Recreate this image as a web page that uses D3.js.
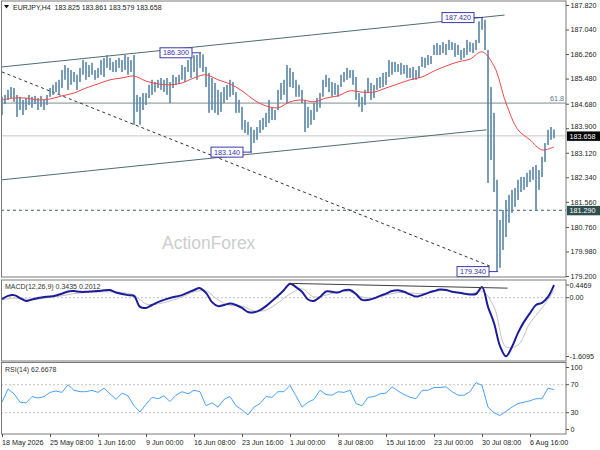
<!DOCTYPE html>
<html>
<head>
<meta charset="utf-8">
<script src="https://cdn.jsdelivr.net/npm/d3@7"></script>
<style>
  body { margin: 0; background: #fff; }
  svg { display: block; font-family: "Liberation Sans", Arial, sans-serif; }
</style>
</head>
<body>
<svg id="chart" width="600" height="450"></svg>
<script>
// EURJPY H4 — one entry per 2 bars (high / low)
const barHigh = [
  184.90,184.96,185.12,185.21,185.18,184.96,184.90,184.80,184.86,184.96,
  184.90,184.93,184.86,184.93,184.80,184.96,185.18,185.28,185.37,185.44,
  185.75,185.91,185.82,185.75,185.69,185.60,185.82,186.07,186.01,185.91,
  185.98,185.75,185.82,186.07,186.14,186.23,186.14,186.01,186.07,186.14,
  186.07,186.23,186.17,186.07,186.23,184.96,184.90,185.02,185.02,185.28,
  185.44,185.37,185.44,185.50,185.44,185.50,185.37,185.60,185.53,185.60,
  185.91,185.85,186.07,186.14,186.22,186.23,186.30,186.25,185.85,185.66,
  185.50,185.34,185.12,185.05,185.21,185.28,185.44,185.37,185.05,184.80,
  184.58,184.16,184.10,183.94,183.85,183.94,184.16,184.23,184.39,184.80,
  184.55,184.48,185.12,185.34,185.44,185.91,185.82,185.69,185.44,185.28,
  185.12,184.80,184.58,184.48,184.70,184.86,185.02,185.44,185.60,185.50,
  185.37,185.34,185.28,185.60,185.69,185.82,185.75,185.75,185.53,185.02,
  184.90,185.12,185.50,185.34,185.28,185.50,185.53,185.66,185.69,186.07,
  186.01,186.01,185.94,185.98,185.91,185.91,185.82,185.85,185.75,185.88,
  186.17,186.14,186.23,186.20,186.55,186.61,186.55,186.64,186.58,186.71,
  186.64,186.61,186.55,186.39,186.45,186.71,186.64,186.61,186.71,187.30,
  187.42,187.35,186.39,185.21,184.39,182.26,180.98,181.30,181.62,181.78,
  181.94,182.00,182.26,182.35,182.35,182.48,182.57,182.67,182.73,182.57,
  182.99,183.43,183.85,183.94,183.86
];
const barLow = [
  184.32,184.67,184.80,184.86,184.74,184.26,184.48,184.32,184.48,184.64,
  184.55,184.67,184.48,184.58,184.48,184.64,184.90,184.96,185.05,184.96,
  185.18,185.44,185.12,185.28,185.37,185.12,185.37,185.60,185.44,185.53,
  185.60,185.44,185.50,185.60,185.53,185.82,185.75,185.69,185.69,185.82,
  185.69,185.75,185.60,185.69,184.01,184.42,184.01,184.48,184.64,184.86,
  184.96,185.05,185.18,185.12,185.05,184.96,184.70,185.18,185.28,185.31,
  185.44,185.37,185.69,185.50,185.69,185.44,185.82,185.69,185.21,184.39,
  184.48,184.39,184.32,184.42,184.70,184.80,184.90,184.96,184.39,184.39,
  183.85,183.75,183.69,183.14,183.43,183.53,183.75,183.85,183.94,184.07,
  184.16,184.16,184.48,184.80,184.96,184.70,185.21,185.18,184.90,184.90,
  184.70,183.78,183.91,184.01,184.16,184.42,184.55,184.90,185.21,185.05,
  184.90,184.96,184.90,185.21,185.37,185.44,185.50,185.28,184.80,184.58,
  184.42,184.64,185.02,184.80,184.86,185.12,185.18,185.21,185.28,185.53,
  185.60,185.69,185.69,185.60,185.63,185.50,185.50,185.44,185.44,185.50,
  185.85,185.82,185.91,185.94,186.23,186.23,186.23,186.29,186.23,186.39,
  186.39,186.17,186.23,186.07,186.14,186.23,186.33,186.29,186.39,186.61,
  187.03,186.39,182.16,182.89,181.87,179.34,179.46,180.03,180.44,180.89,
  181.21,181.40,181.62,181.87,181.94,182.03,182.19,182.26,181.29,181.94,
  182.35,182.83,183.37,183.53,183.58
];
const BARS_PER_SLOT = 2;

// red moving average, one value every 8 bars
const maValues = [
  184.80,184.86,184.86,184.80,184.83,184.93,185.02,185.18,185.31,185.44,
  185.50,185.56,185.40,185.31,185.28,185.34,185.50,185.60,185.44,185.31,
  185.09,184.80,184.61,184.55,184.74,184.80,184.74,184.86,184.93,185.09,
  185.05,185.05,185.18,185.31,185.44,185.53,185.72,185.88,186.01,186.10,
  186.33,185.88,184.70,183.85,183.53,183.21,183.31
];
const MA_STEP = 8;

// MACD main, one value every 4 bars
const macdMain = [
  -0.04,0.05,0.07,-0.01,-0.09,-0.05,-0.01,0.02,0.03,0.06,
  0.11,0.17,0.18,0.16,0.16,0.17,0.18,0.20,0.21,0.14,
  0.10,0.07,0.05,-0.25,-0.28,-0.20,-0.12,-0.06,-0.01,0.03,
  0.07,0.14,0.21,0.26,0.13,-0.12,-0.23,-0.20,-0.16,-0.20,
  -0.28,-0.39,-0.40,-0.34,-0.23,-0.09,0.05,0.21,0.38,0.29,
  0.16,-0.05,-0.09,0.02,0.17,0.16,0.14,0.20,0.21,0.10,
  -0.06,-0.06,-0.02,0.05,0.11,0.18,0.20,0.16,0.09,0.03,
  0.07,0.13,0.18,0.22,0.21,0.16,0.14,0.11,0.09,0.10,
  0.29,-0.25,-0.69,-1.32,-1.60,-1.34,-0.96,-0.66,-0.42,-0.20,
  -0.14,0.02,0.34
];
const MACD_STEP = 4;
// MACD signal, one value every 8 bars
const macdSignal = [
  -0.06,-0.01,-0.04,-0.04,0.01,0.05,0.11,0.14,0.16,0.16,
  0.14,0.07,-0.17,-0.17,-0.09,0.02,0.16,0.18,-0.06,-0.21,
  -0.23,-0.36,-0.34,-0.14,0.10,0.24,0.02,0.07,0.16,0.16,
  0.02,-0.01,0.07,0.14,0.13,0.11,0.16,0.20,0.13,0.10,
  0.18,-0.25,-1.34,-1.29,-0.69,-0.28,0.20
];
const SIGNAL_STEP = 8;

// RSI(14), one value every 4 bars
const rsiValues = [
  45,64,57,45,44,53,51,53,59,61,
  59,70,62,60,60,62,59,65,57,49,
  58,54,40,31,42,52,50,54,46,55,
  60,57,62,60,40,44,38,49,53,40,
  34,27,38,43,53,52,60,60,69,54,
  38,45,49,62,56,55,60,59,62,43,
  40,52,53,57,58,67,61,56,52,50,
  62,62,66,66,67,60,55,55,60,73,
  69,38,30,26,32,38,43,45,47,50,
  50,65,63
];
const RSI_STEP = 4;

// drawn objects: [bar, value]
const upperChannel = [[0, 185.85], [335, 187.50]];
const lowerChannel = [[0, 182.26], [323, 183.85]];
const fallingTrend = [[0, 185.69], [325, 179.52]];
const macdTrend = [[192, 0.39], [337, 0.26]];
const fibLevel = 184.70;
const supportLevel = 181.29;
const bidPrice = 183.658;

// swing labels: [bar, price, text]
const swingTags = [
  [132, 186.30, '186.300'],
  [166, 183.14, '183.140'],
  [320, 187.42, '187.420'],
  [330, 179.34, '179.340']
];

const priceTicks = [187.82, 187.04, 186.26, 185.48, 184.68, 183.90, 183.12, 182.34, 181.56, 180.76, 179.98, 179.20];
const timeBars = [0, 32, 64, 96, 128, 160, 192, 224, 256, 288, 320, 352];
const timeLabels = ['18 May 2026', '25 May 08:00', '1 Jun 16:00', '9 Jun 00:00', '16 Jun 08:00', '23 Jun 16:00',
  '1 Jul 00:00', '8 Jul 08:00', '15 Jul 16:00', '23 Jul 00:00', '30 Jul 08:00', '6 Aug 16:00'];

const LAST_BAR = 368;
const RIGHT = 566;
const FONT = 7.2;

const svg = d3.select('#chart');

const xBar = d3.scaleLinear().domain([0, LAST_BAR]).range([2, 554]);
const yPrice = d3.scaleLinear().domain([179.2, 187.82]).range([276, 5]);
const yMacd = d3.scaleLinear().domain([-1.6095, 0.4469]).range([356.7, 281.3]);
const yRsi = d3.scaleLinear().domain([0, 100]).range([433.7, 363.7]);

const panes = [
  { id: 'main', top: 1, bottom: 277 },
  { id: 'macd', top: 280, bottom: 361 },
  { id: 'rsi', top: 362.5, bottom: 434 }
];

const defs = svg.append('defs');
panes.forEach(p => {
  defs.append('clipPath').attr('id', 'clip-' + p.id)
    .append('rect').attr('x', 1.5).attr('y', p.top).attr('width', RIGHT - 1.5).attr('height', p.bottom - p.top);
});

// watermark
svg.append('text')
  .attr('x', 162).attr('y', 249)
  .attr('font-size', 17.5)
  .attr('fill', '#cdcdcd')
  .text('ActionForex');

const main = svg.append('g').attr('clip-path', 'url(#clip-main)');

// horizontal levels
main.append('line')
  .attr('x1', 1).attr('x2', RIGHT)
  .attr('y1', yPrice(bidPrice)).attr('y2', yPrice(bidPrice))
  .attr('stroke', '#c8c8c8').attr('stroke-width', 1);
main.append('line')
  .attr('x1', 1).attr('x2', RIGHT)
  .attr('y1', yPrice(fibLevel)).attr('y2', yPrice(fibLevel))
  .attr('stroke', '#7d8c8c').attr('stroke-width', 1);
main.append('line')
  .attr('x1', 1).attr('x2', RIGHT)
  .attr('y1', yPrice(supportLevel)).attr('y2', yPrice(supportLevel))
  .attr('stroke', '#3f5f5f').attr('stroke-width', 1)
  .attr('stroke-dasharray', '3,3');
svg.append('text')
  .attr('x', RIGHT - 2).attr('y', yPrice(fibLevel) - 2.5)
  .attr('text-anchor', 'end')
  .attr('font-size', FONT).attr('fill', '#5f7282')
  .text('61.8');

// trend lines
const priceLine = d3.line().x(d => xBar(d[0])).y(d => yPrice(d[1]));
[upperChannel, lowerChannel].forEach(l => {
  main.append('path').attr('d', priceLine(l))
    .attr('fill', 'none').attr('stroke', '#4f6d6d').attr('stroke-width', 1);
});
main.append('path').attr('d', priceLine(fallingTrend))
  .attr('fill', 'none').attr('stroke', '#333').attr('stroke-width', 1)
  .attr('stroke-dasharray', '3,3');

// bars
main.append('g')
  .selectAll('rect')
  .data(barHigh.map((h, i) => ({ bar: i * BARS_PER_SLOT, high: h, low: barLow[i] })))
  .join('rect')
    .attr('x', d => xBar(d.bar) - 0.8)
    .attr('y', d => yPrice(d.high))
    .attr('width', 1.6)
    .attr('height', d => Math.max(1, yPrice(d.low) - yPrice(d.high)))
    .attr('fill', '#5986a8');

// moving average
main.append('path')
  .datum(maValues)
  .attr('d', d3.line().x((d, i) => xBar(i * MA_STEP)).y(d => yPrice(d)).curve(d3.curveCatmullRom))
  .attr('fill', 'none').attr('stroke', '#f04848').attr('stroke-width', 1);

// swing labels
const tags = svg.append('g');
swingTags.forEach(([bar, price, text]) => {
  const xr = xBar(bar) - 8, yc = yPrice(price);
  tags.append('line')
    .attr('x1', xr).attr('x2', xBar(bar) + 1)
    .attr('y1', yc).attr('y2', yc)
    .attr('stroke', '#3a3ab0').attr('stroke-width', 1);
  tags.append('rect')
    .attr('x', xr - 32).attr('y', yc - 5)
    .attr('width', 32).attr('height', 10)
    .attr('fill', '#fff').attr('stroke', '#3a3ab0').attr('stroke-width', 1);
  tags.append('text')
    .attr('x', xr - 16).attr('y', yc + 2.6)
    .attr('text-anchor', 'middle')
    .attr('font-size', FONT).attr('fill', '#3030a8')
    .text(text);
});

// MACD pane
const macdG = svg.append('g').attr('clip-path', 'url(#clip-macd)');
macdG.append('line')
  .attr('x1', 1).attr('x2', RIGHT)
  .attr('y1', yMacd(0)).attr('y2', yMacd(0))
  .attr('stroke', '#c4c4c4').attr('stroke-dasharray', '2,2');
macdG.append('path')
  .datum(macdSignal)
  .attr('d', d3.line().x((d, i) => xBar(i * SIGNAL_STEP)).y(d => yMacd(d)).curve(d3.curveCatmullRom))
  .attr('fill', 'none').attr('stroke', '#c2c2c2').attr('stroke-width', 1);
macdG.append('path')
  .datum(macdMain)
  .attr('d', d3.line().x((d, i) => xBar(i * MACD_STEP)).y(d => yMacd(d)).curve(d3.curveCatmullRom))
  .attr('fill', 'none').attr('stroke', '#1c1c9c').attr('stroke-width', 2);
macdG.append('path')
  .attr('d', d3.line().x(d => xBar(d[0])).y(d => yMacd(d[1]))(macdTrend))
  .attr('fill', 'none').attr('stroke', '#404040').attr('stroke-width', 1);

// RSI pane
const rsiG = svg.append('g').attr('clip-path', 'url(#clip-rsi)');
[70, 30].forEach(v => {
  rsiG.append('line')
    .attr('x1', 1).attr('x2', RIGHT)
    .attr('y1', yRsi(v)).attr('y2', yRsi(v))
    .attr('stroke', '#c4c4c4').attr('stroke-dasharray', '2,2');
});
rsiG.append('path')
  .datum(rsiValues)
  .attr('d', d3.line().x((d, i) => xBar(i * RSI_STEP)).y(d => yRsi(d)))
  .attr('fill', 'none').attr('stroke', '#4aa3ff').attr('stroke-width', 1);

// pane borders
panes.forEach(p => {
  svg.append('rect')
    .attr('x', 1.5).attr('y', p.top)
    .attr('width', RIGHT - 1.5).attr('height', p.bottom - p.top)
    .attr('fill', 'none').attr('stroke', '#7a7a7a').attr('stroke-width', 1);
});

// price axis
const styleAxis = g => {
  g.attr('font-family', null).attr('font-size', FONT);
  g.select('.domain').remove();
  g.selectAll('text').attr('fill', '#222');
  g.selectAll('line').attr('stroke', '#555');
};
svg.append('g')
  .attr('transform', `translate(${RIGHT},0)`)
  .call(d3.axisRight(yPrice).tickValues(priceTicks).tickSize(3).tickPadding(1.5).tickFormat(d3.format('.3f')))
  .call(styleAxis)
  .call(g => g.selectAll('.tick text').attr('dy', d => d === 183.90 ? '0.1em' : '0.32em'));

// MACD axis labels
const macdLabels = [[0.4469, '0.4469'], [0, '0.00'], [-1.6095, '-1.6095']];
const macdAxis = svg.append('g');
macdLabels.forEach(([v, t]) => {
  const y = Math.min(Math.max(yMacd(v), 285), 356.5);
  macdAxis.append('line').attr('x1', RIGHT).attr('x2', RIGHT + 3).attr('y1', y).attr('y2', y).attr('stroke', '#555');
  macdAxis.append('text').attr('x', RIGHT + 3.5).attr('y', y + 2.6)
    .attr('font-size', FONT).attr('fill', '#222').text(t);
});

// RSI axis labels
const rsiAxis = svg.append('g');
[100, 70, 30, 0].forEach(v => {
  const y = Math.min(Math.max(yRsi(v), 367.5), 429.5);
  rsiAxis.append('line').attr('x1', RIGHT).attr('x2', RIGHT + 3).attr('y1', y).attr('y2', y).attr('stroke', '#555');
  rsiAxis.append('text').attr('x', RIGHT + 4.5).attr('y', y + 2.6)
    .attr('font-size', FONT).attr('fill', '#222').text(v);
});

// current price and support tags on the axis
const axisTag = (price, text, bg) => {
  const y = yPrice(price);
  svg.append('rect').attr('x', RIGHT + 1).attr('y', y - 4.4)
    .attr('width', 600 - RIGHT - 1).attr('height', 9.4).attr('fill', bg);
  svg.append('text').attr('x', RIGHT + 3.5).attr('y', y + 2.7)
    .attr('font-size', FONT).attr('fill', '#fff').text(text);
};
axisTag(bidPrice, '183.658', '#000');
axisTag(supportLevel, '181.290', '#2f4f4f');

// time axis
svg.append('g')
  .attr('transform', 'translate(0,434)')
  .call(d3.axisBottom(xBar).tickValues(timeBars).tickSize(3).tickPadding(2.5).tickFormat((d, i) => timeLabels[i]))
  .call(styleAxis)
  .call(g => g.selectAll('text').attr('text-anchor', 'start').attr('x', -0.5));

// headers
svg.append('path').attr('d', 'M4,5 L9,5 L6.5,8.5 Z').attr('fill', '#111');
svg.append('text').attr('x', 13).attr('y', 9.5)
  .attr('font-size', 7).attr('fill', '#222')
  .attr('xml:space', 'preserve')
  .text('EURJPY,H4  183.825 183.861 183.579 183.658');
svg.append('text').attr('x', 5).attr('y', 289)
  .attr('font-size', 7).attr('fill', '#333')
  .text('MACD(12,26,9) 0.3435 0.2012');
svg.append('text').attr('x', 5).attr('y', 371.5)
  .attr('font-size', 7).attr('fill', '#333')
  .text('RSI(14) 62.6678');
</script>
</body>
</html>
